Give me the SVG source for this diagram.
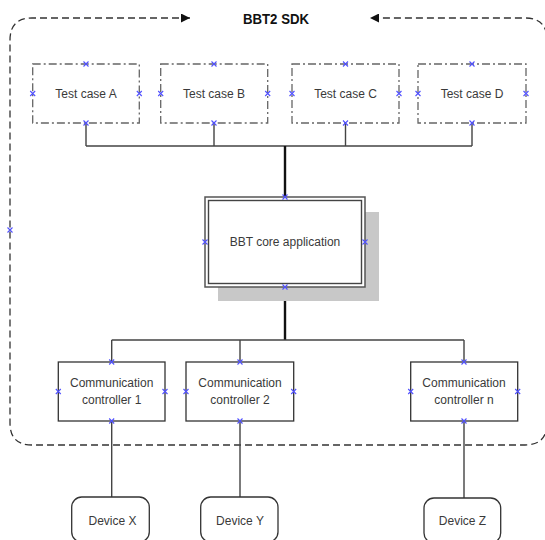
<svg xmlns="http://www.w3.org/2000/svg" width="545" height="540" viewBox="0 0 545 540">
  <style>
    .lbl { font-family: "Liberation Sans", Arial, sans-serif; font-size: 12px; fill: #3a3a3a; text-anchor: middle; }
    .title { font-family: "Liberation Sans", Arial, sans-serif; font-size: 15px; font-weight: bold; fill: #111; text-anchor: middle; }
    .test { fill: #fff; stroke: #666; stroke-width: 1.3; stroke-dasharray: 8 3 2 3; }
    .ctrl { fill: #fff; stroke: #333; stroke-width: 1.3; }
    .dev { fill: #fff; stroke: #333; stroke-width: 1.3; }
    .wire { fill: none; stroke: #444; stroke-width: 1.4; }
    .trunk { fill: none; stroke: #111; stroke-width: 2.4; }
    .boundary { fill: none; stroke: #333; stroke-width: 1.3; stroke-dasharray: 7 4; }
  </style>
  <defs>
    <marker id="arrow" viewBox="0 0 10 10" refX="10" refY="5" markerWidth="9" markerHeight="9" markerUnits="userSpaceOnUse" orient="auto-start-reverse">
      <path d="M0,0 L10,5 L0,10 z" fill="#111"/>
    </marker>
    <!-- connection point cross -->
    <path id="cp" d="M-2.5,-2.5 L2.5,2.5 M-2.5,2.5 L2.5,-2.5" stroke="#5050ff" stroke-width="1.1" fill="none"/>
  </defs>

  <!-- SDK boundary: open at the top around the title, arrows pointing inwards -->
  <g id="sdk-boundary">
    <path class="boundary" marker-start="url(#arrow)" marker-end="url(#arrow)"
          d="M190,18 L32,18 Q10,18 10,40 L10,423 Q10,445 32,445 L525,445 Q547,445 547,423 L547,40 Q547,18 525,18 L370,18"/>
    <text class="title" x="276" y="24" textLength="66" lengthAdjust="spacingAndGlyphs">BBT2 SDK</text>
    <use href="#cp" x="10" y="230"/>
  </g>

  <!-- connectors -->
  <g id="connectors">
    <path class="wire" d="M86,123 V146 M214,123 V146 M345.5,123 V146 M472,123 V146 M86,146 H472"/>
    <path class="trunk" d="M285,146 V197"/>
    <path class="trunk" d="M285,287 V340"/>
    <path class="wire" d="M111.7,340 H464 M111.7,340 V362 M240,340 V362 M464,340 V362"/>
    <path class="wire" d="M111.7,421 V497 M240,421 V497 M464,421 V498"/>
  </g>

  <!-- test cases -->
  <g id="test-case-a">
    <rect class="test" x="32.7" y="64" width="106.6" height="59"/>
    <text class="lbl" x="86" y="97.5">Test case A</text>
    <use href="#cp" x="86" y="64"/><use href="#cp" x="86" y="123"/>
    <use href="#cp" x="32.7" y="93.5"/><use href="#cp" x="139.3" y="93.5"/>
  </g>
  <g id="test-case-b">
    <rect class="test" x="160.7" y="64" width="107" height="59"/>
    <text class="lbl" x="214" y="97.5">Test case B</text>
    <use href="#cp" x="214" y="64"/><use href="#cp" x="214" y="123"/>
    <use href="#cp" x="160.7" y="93.5"/><use href="#cp" x="267.7" y="93.5"/>
  </g>
  <g id="test-case-c">
    <rect class="test" x="292" y="64" width="107" height="59"/>
    <text class="lbl" x="345.5" y="97.5">Test case C</text>
    <use href="#cp" x="345.5" y="64"/><use href="#cp" x="345.5" y="123"/>
    <use href="#cp" x="292" y="93.5"/><use href="#cp" x="399" y="93.5"/>
  </g>
  <g id="test-case-d">
    <rect class="test" x="418" y="64" width="108" height="59"/>
    <text class="lbl" x="472" y="97.5">Test case D</text>
    <use href="#cp" x="472" y="64"/><use href="#cp" x="472" y="123"/>
    <use href="#cp" x="418" y="93.5"/><use href="#cp" x="526" y="93.5"/>
  </g>

  <!-- core application with drop shadow and double frame -->
  <g id="core-application">
    <rect x="218" y="212" width="161" height="89" fill="#c8c8c8"/>
    <rect x="205" y="197" width="160" height="90" fill="#fff" stroke="#555" stroke-width="1.5"/>
    <rect x="208.5" y="200.5" width="153" height="83" fill="none" stroke="#444" stroke-width="1.4"/>
    <text class="lbl" x="285" y="245.5" font-size="11.5">BBT core application</text>
    <use href="#cp" x="285" y="197"/><use href="#cp" x="285" y="287"/>
    <use href="#cp" x="205" y="242"/><use href="#cp" x="365" y="242"/>
  </g>

  <!-- communication controllers -->
  <g id="controller-1">
    <rect class="ctrl" x="58.3" y="362" width="106.7" height="59"/>
    <text class="lbl" x="111.7" y="387">Communication</text>
    <text class="lbl" x="111.7" y="403.5">controller 1</text>
    <use href="#cp" x="111.7" y="362"/><use href="#cp" x="111.7" y="421"/>
    <use href="#cp" x="58.3" y="391.5"/><use href="#cp" x="165" y="391.5"/>
  </g>
  <g id="controller-2">
    <rect class="ctrl" x="186" y="362" width="107.7" height="59"/>
    <text class="lbl" x="240" y="387">Communication</text>
    <text class="lbl" x="240" y="403.5">controller 2</text>
    <use href="#cp" x="240" y="362"/><use href="#cp" x="240" y="421"/>
    <use href="#cp" x="186" y="391.5"/><use href="#cp" x="293.7" y="391.5"/>
  </g>
  <g id="controller-n">
    <rect class="ctrl" x="410.7" y="362" width="107" height="59"/>
    <text class="lbl" x="464" y="387">Communication</text>
    <text class="lbl" x="464" y="403.5">controller n</text>
    <use href="#cp" x="464" y="362"/><use href="#cp" x="464" y="421"/>
    <use href="#cp" x="410.7" y="391.5"/><use href="#cp" x="517.7" y="391.5"/>
  </g>

  <!-- devices -->
  <g id="device-x">
    <rect class="dev" x="71.7" y="497" width="77.6" height="45" rx="10"/>
    <text class="lbl" x="112.5" y="524.5">Device X</text>
  </g>
  <g id="device-y">
    <rect class="dev" x="200.7" y="497" width="77.3" height="45" rx="10"/>
    <text class="lbl" x="240" y="524.5">Device Y</text>
  </g>
  <g id="device-z">
    <rect class="dev" x="424" y="498" width="76.7" height="45" rx="10"/>
    <text class="lbl" x="462.5" y="525">Device Z</text>
  </g>
</svg>
